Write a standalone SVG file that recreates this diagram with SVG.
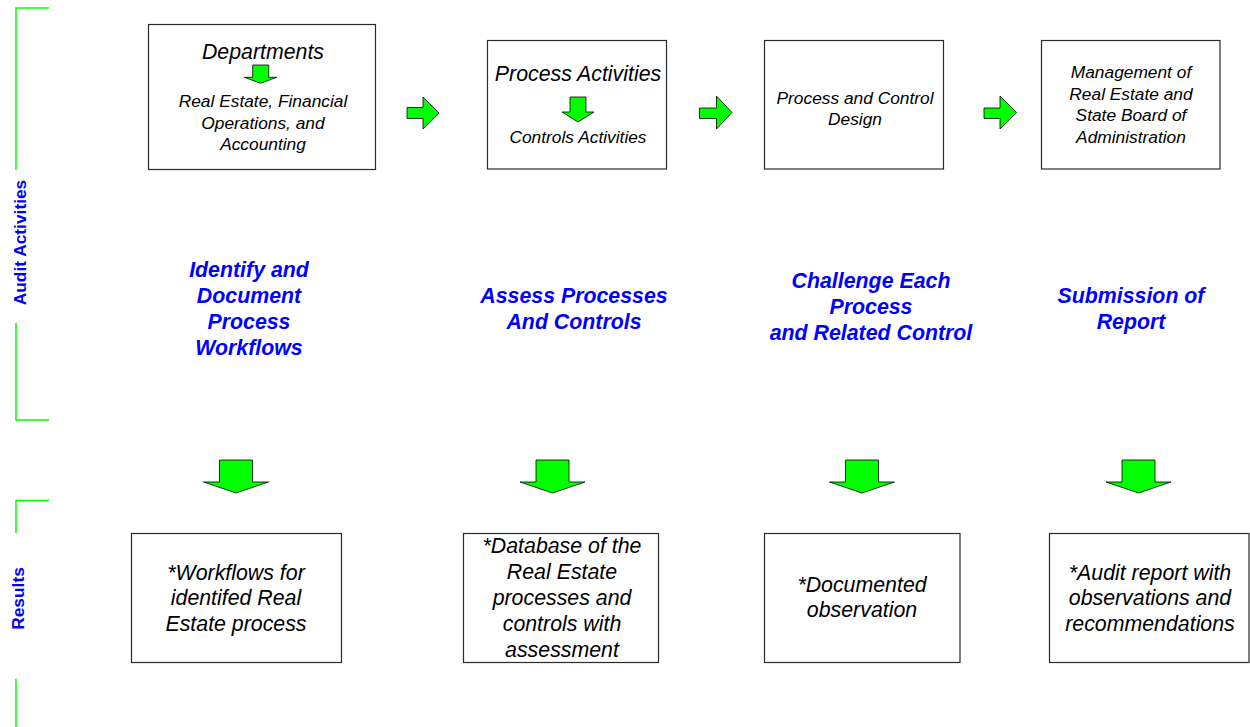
<svg xmlns="http://www.w3.org/2000/svg" width="1250" height="727" viewBox="0 0 1250 727">
  <style>
    .box { fill: #ffffff; stroke: #2a2a2a; stroke-width: 1.2; }
    .arrow { fill: #00ff00; stroke: #000000; stroke-width: 0.8; stroke-linejoin: miter; }
    .bracket { fill: none; stroke: #00ff00; stroke-width: 1.5; }
    .it { font-family: "Liberation Sans", Arial, sans-serif; font-style: italic; fill: #000000; text-anchor: middle; }
    .big { font-size: 21.33px; }
    .small { font-size: 17.33px; }
    .stage { font-family: "Liberation Sans", Arial, sans-serif; font-style: italic; font-weight: bold; font-size: 21.33px; fill: #0000ff; text-anchor: middle; }
    .side { font-family: "Liberation Sans", Arial, sans-serif; font-weight: bold; font-size: 17.33px; fill: #0000ff; text-anchor: middle; }
  </style>

  <rect width="1250" height="727" fill="#ffffff"/>

  <!-- Row brackets and row titles -->
  <g id="row-audit-activities">
    <polyline class="bracket" points="49,8 16,8 16,170"/>
    <polyline class="bracket" points="16,323 16,420 49,420"/>
    <text class="side" transform="translate(26,242.5) rotate(-90)">Audit Activities</text>
  </g>
  <g id="row-results">
    <polyline class="bracket" points="49,500.5 16,500.5 16,533"/>
    <polyline class="bracket" points="16,679 16,727"/>
    <text class="side" transform="translate(24,598.5) rotate(-90)">Results</text>
  </g>

  <!-- Top row: audit scope boxes -->
  <g id="node-departments">
    <rect class="box" x="148.5" y="24.5" width="227" height="145"/>
    <text class="it big" x="263" y="58.5">Departments</text>
    <polygon class="arrow" points="252.7,65 268.7,65 268.7,77.3 276.7,77.3 260.7,83.3 244.3,77.3 252.7,77.3"/>
    <text class="it small" x="263" y="107">Real Estate, Financial</text>
    <text class="it small" x="263" y="128.5">Operations, and</text>
    <text class="it small" x="263" y="150">Accounting</text>
  </g>
  <g id="node-process-activities">
    <rect class="box" x="487.5" y="40.5" width="179" height="128.5"/>
    <text class="it big" x="578" y="80.5">Process Activities</text>
    <polygon class="arrow" points="570,97 586,97 586,112 594,112 578,122 562,112 570,112"/>
    <text class="it small" x="578" y="142.5">Controls Activities</text>
  </g>
  <g id="node-process-control-design">
    <rect class="box" x="764.5" y="40.5" width="179" height="128.5"/>
    <text class="it small" x="855" y="104">Process and Control</text>
    <text class="it small" x="855" y="125">Design</text>
  </g>
  <g id="node-management">
    <rect class="box" x="1041.5" y="40.5" width="178.5" height="128.5"/>
    <text class="it small" x="1131" y="78">Management of</text>
    <text class="it small" x="1131" y="99.5">Real Estate and</text>
    <text class="it small" x="1131" y="121">State Board of</text>
    <text class="it small" x="1131" y="143">Administration</text>
  </g>

  <!-- Middle row: audit stage titles -->
  <g id="stage-identify">
    <text class="stage" x="249" y="276.5">Identify and</text>
    <text class="stage" x="249" y="302.5">Document</text>
    <text class="stage" x="249" y="328.5">Process</text>
    <text class="stage" x="249" y="354.5">Workflows</text>
  </g>
  <g id="stage-assess">
    <text class="stage" x="574" y="303">Assess Processes</text>
    <text class="stage" x="574" y="329">And Controls</text>
  </g>
  <g id="stage-challenge">
    <text class="stage" x="871" y="288">Challenge Each</text>
    <text class="stage" x="871" y="314">Process</text>
    <text class="stage" x="871" y="340">and Related Control</text>
  </g>
  <g id="stage-submission">
    <text class="stage" x="1131" y="303">Submission of</text>
    <text class="stage" x="1131" y="329">Report</text>
  </g>

  <!-- Bottom row: results boxes -->
  <g id="result-workflows">
    <rect class="box" x="131.5" y="533.5" width="210" height="129"/>
    <text class="it big" x="236" y="579.5">*Workflows for</text>
    <text class="it big" x="236" y="605">identifed Real</text>
    <text class="it big" x="236" y="630.5">Estate process</text>
  </g>
  <g id="result-database">
    <rect class="box" x="463.5" y="533.5" width="195" height="129"/>
    <text class="it big" x="562" y="552.5">*Database of the</text>
    <text class="it big" x="562" y="578.5">Real Estate</text>
    <text class="it big" x="562" y="604.5">processes and</text>
    <text class="it big" x="562" y="630.5">controls with</text>
    <text class="it big" x="562" y="656.5">assessment</text>
  </g>
  <g id="result-observation">
    <rect class="box" x="764.5" y="533.5" width="195.5" height="129"/>
    <text class="it big" x="862" y="591.5">*Documented</text>
    <text class="it big" x="862" y="617">observation</text>
  </g>
  <g id="result-audit-report">
    <rect class="box" x="1049.5" y="533.5" width="199.5" height="129"/>
    <text class="it big" x="1150" y="579.5">*Audit report with</text>
    <text class="it big" x="1150" y="605">observations and</text>
    <text class="it big" x="1150" y="630.5">recommendations</text>
  </g>

  <!-- Connectors: block arrows between stages and down to results -->
  <g id="connectors">
    <polygon class="arrow" points="407,107.5 423,107.5 423,97 439,113 423,129 423,118.5 407,118.5"/>
    <polygon class="arrow" points="699.5,108 716.5,108 716.5,96 732,112.5 716.5,129 716.5,118.5 699.5,118.5"/>
    <polygon class="arrow" points="984,108 1000,108 1000,96 1016.5,112.5 1000,129 1000,118.5 984,118.5"/>

    <polygon class="arrow" points="219.5,460 252.5,460 252.5,482 268.5,482 236,493 203.5,482 219.5,482"/>
    <polygon class="arrow" points="536,460 569,460 569,482 585,482 552.5,493 520,482 536,482"/>
    <polygon class="arrow" points="845.5,460 878.5,460 878.5,482 894.5,482 862,493 829.5,482 845.5,482"/>
    <polygon class="arrow" points="1122,460 1155,460 1155,482 1171,482 1138.5,493 1106,482 1122,482"/>
  </g>
</svg>
